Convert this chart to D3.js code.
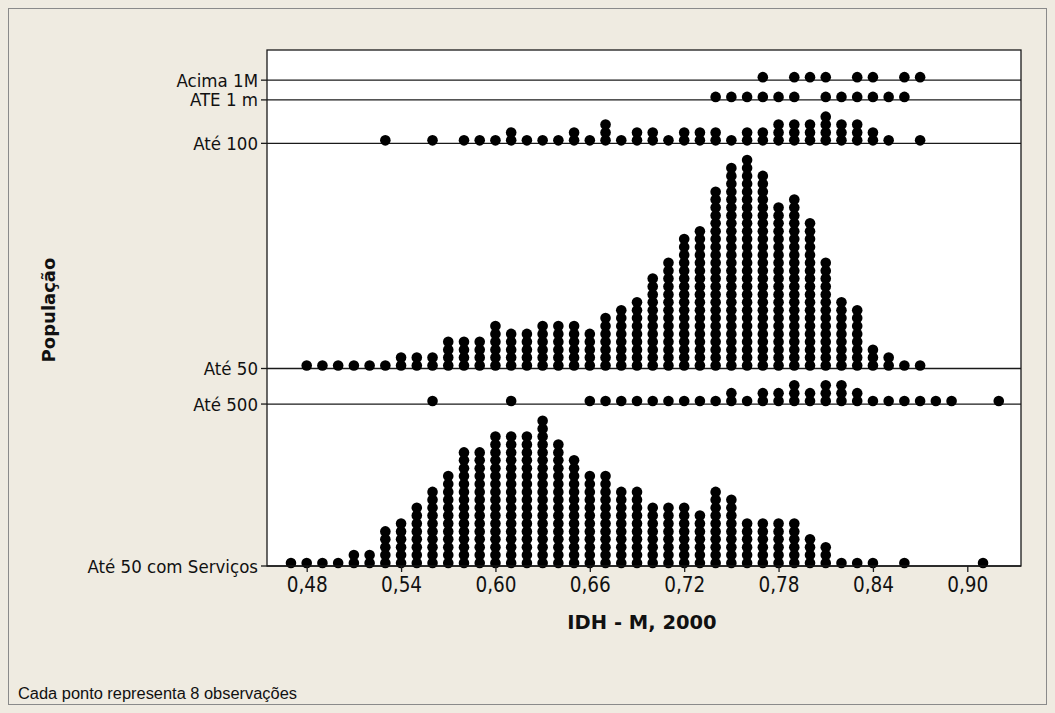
<!DOCTYPE html>
<html>
<head>
<meta charset="utf-8">
<script src="https://cdn.jsdelivr.net/npm/d3@7/dist/d3.min.js"></script>
<style>
  html, body { margin: 0; padding: 0; background: #efebe1; }
  svg { display: block; }
  .lab { font-family: "Liberation Sans Narrow", "DejaVu Sans Condensed", "Liberation Sans", sans-serif; fill: #111; }
  .bold { font-family: "DejaVu Sans", "Liberation Sans", sans-serif; font-weight: bold; fill: #111; }
</style>
</head>
<body>
<svg id="chart" width="1055" height="713"></svg>
<script>
// IDH-M 2000 dotplot by population class; each dot stands for 8 municipalities.
const groups = ["Até 50 com Serviços", "Até 500", "Até 50", "Até 100", "ATE 1 m", "Acima 1M"];

// bins are 0.01 wide; value = bin centre, count = dots stacked in that bin
const servicosBins   = [0.47,0.48,0.49,0.50,0.51,0.52,0.53,0.54,0.55,0.56,0.57,0.58,0.59,0.60,0.61,0.62,0.63,0.64,0.65,0.66,0.67,0.68,0.69,0.70,0.71,0.72,0.73,0.74,0.75,0.76,0.77,0.78,0.79,0.80,0.81,0.82,0.83,0.84,0.86,0.91];
const servicosCounts = [1,1,1,1,2,2,5,6,8,10,12,15,15,17,17,17,19,16,14,12,12,10,10,8,8,8,7,10,9,6,6,6,6,4,3,1,1,1,1,1];

const ate500Bins   = [0.56,0.61,0.66,0.67,0.68,0.69,0.70,0.71,0.72,0.73,0.74,0.75,0.76,0.77,0.78,0.79,0.80,0.81,0.82,0.83,0.84,0.85,0.86,0.87,0.88,0.89,0.92];
const ate500Counts = [1,1,1,1,1,1,1,1,1,1,1,2,1,2,2,3,2,3,3,2,1,1,1,1,1,1,1];

const ate50Bins   = [0.48,0.49,0.50,0.51,0.52,0.53,0.54,0.55,0.56,0.57,0.58,0.59,0.60,0.61,0.62,0.63,0.64,0.65,0.66,0.67,0.68,0.69,0.70,0.71,0.72,0.73,0.74,0.75,0.76,0.77,0.78,0.79,0.80,0.81,0.82,0.83,0.84,0.85,0.86,0.87];
const ate50Counts = [1,1,1,1,1,1,2,2,2,4,4,4,6,5,5,6,6,6,5,7,8,9,12,14,17,18,23,26,27,25,21,22,19,14,9,8,3,2,1,1];

const ate100Bins   = [0.53,0.56,0.58,0.59,0.60,0.61,0.62,0.63,0.64,0.65,0.66,0.67,0.68,0.69,0.70,0.71,0.72,0.73,0.74,0.75,0.76,0.77,0.78,0.79,0.80,0.81,0.82,0.83,0.84,0.85,0.87];
const ate100Counts = [1,1,1,1,1,2,1,1,1,2,1,3,1,2,2,1,2,2,2,1,2,2,3,3,3,4,3,3,2,1,1];

const ate1mBins   = [0.74,0.75,0.76,0.77,0.78,0.79,0.81,0.82,0.83,0.84,0.85,0.86];
const ate1mCounts = [1,1,1,1,1,1,1,1,1,1,1,1];

const acima1mBins   = [0.77,0.79,0.80,0.81,0.83,0.84,0.86,0.87];
const acima1mCounts = [1,1,1,1,1,1,1,1];

const xTicks = [0.48,0.54,0.60,0.66,0.72,0.78,0.84,0.90];

const series = [
  {bins: servicosBins, counts: servicosCounts},
  {bins: ate500Bins,   counts: ate500Counts},
  {bins: ate50Bins,    counts: ate50Counts},
  {bins: ate100Bins,   counts: ate100Counts},
  {bins: ate1mBins,    counts: ate1mCounts},
  {bins: acima1mBins,  counts: acima1mCounts}
];

const svg = d3.select("#chart");
const W = 1055, H = 713;
const plot = {left: 267, right: 1021, top: 50, bottom: 566};

// outer frame
svg.append("rect").attr("x", 0).attr("y", 0).attr("width", W).attr("height", H).attr("fill", "#efebe1");
svg.append("rect").attr("x", 8.5).attr("y", 8.5).attr("width", 1038).attr("height", 696)
  .attr("fill", "none").attr("stroke", "#8a8a8a").attr("stroke-width", 1);

// plot area
svg.append("rect").attr("x", plot.left).attr("y", plot.top)
  .attr("width", plot.right - plot.left).attr("height", plot.bottom - plot.top)
  .attr("fill", "#ffffff");

const x = d3.scaleLinear().domain([0.48, 0.90]).range([306.7, 967.3]);

// vertical position in "dot units": each group takes (max stack + gap) units
const gap = 1.5;
let offset = 0;
const bases = series.map(s => {
  const b = offset;
  offset += d3.max(s.counts) + gap;
  return b;
});
const unit = 7.9;
const y = d3.scaleLinear().domain([0, 1]).range([plot.bottom, plot.bottom - unit]);

// group baselines
const g = svg.append("g");
groups.forEach((name, i) => {
  const yy = y(bases[i]);
  g.append("line").attr("x1", plot.left).attr("x2", plot.right)
    .attr("y1", yy).attr("y2", yy).attr("stroke", "#1a1a1a").attr("stroke-width", 1.3);
  g.append("line").attr("x1", plot.left - 6).attr("x2", plot.left)
    .attr("y1", yy).attr("y2", yy).attr("stroke", "#1a1a1a").attr("stroke-width", 1.3);
  svg.append("text").attr("class", "lab")
    .attr("x", plot.left - 9).attr("y", yy)
    .attr("text-anchor", "end").attr("dominant-baseline", "central")
    .attr("font-size", 18.5).text(name);
});

// stacked dots
const dots = [];
series.forEach((s, i) => {
  s.bins.forEach((v, j) => {
    for (let k = 0; k < s.counts[j]; k++) dots.push({v, u: bases[i] + k + 0.38});
  });
});
svg.append("g").selectAll("circle").data(dots).join("circle")
  .attr("cx", d => x(d.v)).attr("cy", d => y(d.u))
  .attr("r", 5.3).attr("fill", "#000");

// plot border
svg.append("rect").attr("x", plot.left).attr("y", plot.top)
  .attr("width", plot.right - plot.left).attr("height", plot.bottom - plot.top)
  .attr("fill", "none").attr("stroke", "#1a1a1a").attr("stroke-width", 1.3);

// x axis
const xAxis = d3.axisBottom(x).tickValues(xTicks).tickSize(6).tickPadding(5)
  .tickFormat(d => d3.format(".2f")(d).replace(".", ","));
const ax = svg.append("g").attr("transform", `translate(0,${plot.bottom})`).call(xAxis);
ax.select(".domain").remove();
ax.selectAll(".tick line").attr("stroke", "#1a1a1a").attr("stroke-width", 1.3);
ax.selectAll(".tick text").attr("class", "lab").attr("font-size", 20.5).attr("fill", "#111");

// titles
svg.append("text").attr("class", "bold").attr("x", 642).attr("y", 629)
  .attr("text-anchor", "middle").attr("font-size", 19.5).text("IDH - M, 2000");
svg.append("text").attr("class", "bold")
  .attr("transform", "translate(55,310) rotate(-90)")
  .attr("text-anchor", "middle").attr("font-size", 18).text("População");
svg.append("text").attr("x", 18).attr("y", 699)
  .attr("font-family", "Liberation Sans, sans-serif").attr("font-size", 16)
  .attr("textLength", 279).attr("lengthAdjust", "spacingAndGlyphs")
  .attr("fill", "#111").text("Cada ponto representa 8 observações");
</script>
</body>
</html>
